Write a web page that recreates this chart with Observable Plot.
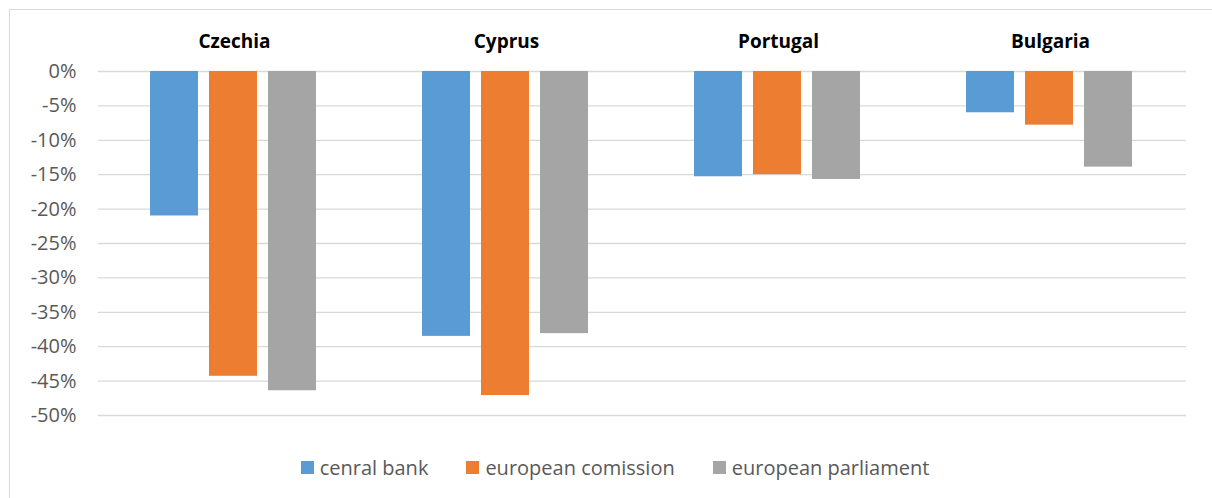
<!DOCTYPE html>
<html>
<head>
<meta charset="utf-8">
<script src="https://cdn.jsdelivr.net/npm/d3@7"></script>
<script src="https://cdn.jsdelivr.net/npm/@observablehq/plot@0.6"></script>
<style>
  html, body { margin: 0; padding: 0; background: #fff; }
  body { width: 1212px; height: 498px; position: relative; overflow: hidden; font-family: "Open Sans", sans-serif; }
  #frame { position: absolute; left: 9px; top: 9px; width: 1220px; height: 520px; border: 1px solid #d9d9d9; box-sizing: border-box; }
  #chart { position: absolute; left: 0; top: 0; }
  #legend { position: absolute; left: 9px; top: 453px; width: 1212px; height: 28px; display: flex; justify-content: center; align-items: center; font-size: 20px; color: #595959; }
  .item { display: flex; align-items: center; margin: 0 19px; }
  .sw { width: 13px; height: 13px; margin-right: 6px; }
</style>
</head>
<body>
<div id="frame"></div>
<div id="chart"></div>
<div id="legend"></div>
<script>
const countries = ["Czechia", "Cyprus", "Portugal", "Bulgaria"];
const series = ["cenral bank", "european comission", "european parliament"];
const centralBank = [-21.0, -38.5, -15.3, -6.0];
const europeanCommission = [-44.3, -47.1, -15.0, -7.8];
const europeanParliament = [-46.4, -38.1, -15.7, -13.9];
const yTicks = [0, -5, -10, -15, -20, -25, -30, -35, -40, -45, -50];
const colors = ["#5b9bd5", "#ed7d31", "#a5a5a5"];

const valuesBySeries = [centralBank, europeanCommission, europeanParliament];
const data = [];
countries.forEach((c, i) => {
  series.forEach((s, j) => data.push({country: c, series: s, value: valuesBySeries[j][i]}));
});

const chart = Plot.plot({
  width: 1212,
  height: 450,
  marginLeft: 97,
  marginRight: 26,
  marginTop: 71,
  marginBottom: 35,
  style: {fontFamily: "'Open Sans', sans-serif", background: "transparent", color: "#595959"},
  fx: {domain: countries, padding: 0, label: null},
  x: {domain: series, paddingInner: 0.2, paddingOuter: 0.867, axis: null},
  y: {domain: [-50, 0], label: null},
  color: {domain: series, range: colors},
  marks: [
    Plot.gridY(yTicks, {stroke: "#d9d9d9", strokeOpacity: 1, strokeWidth: 1.3}),
    Plot.barY(data, {fx: "country", x: "series", y: "value", fill: "series", insetLeft: -1}),
    Plot.axisY(yTicks, {tickSize: 0, tickPadding: 22, tickFormat: d => d + "%", fontSize: 20, fill: "#595959", label: null}),
    Plot.axisFx({anchor: "top", tickSize: 0, tickPadding: 24, fontWeight: "bold", fontSize: 19, fill: "#000", label: null})
  ]
});
document.getElementById("chart").appendChild(chart);

const legend = d3.select("#legend");
series.forEach((s, j) => {
  const it = legend.append("div").attr("class", "item");
  it.append("div").attr("class", "sw").style("background", colors[j]);
  it.append("span").text(s);
});
</script>
</body>
</html>
